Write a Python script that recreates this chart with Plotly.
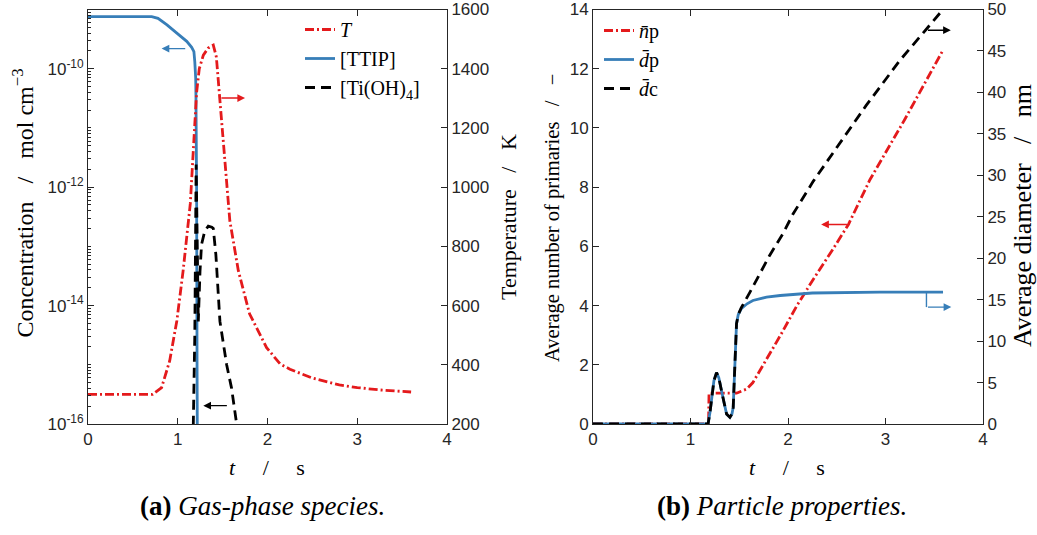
import plotly.graph_objects as go

# ---------------- data: (a) gas-phase species ----------------
t_T = [0, 0.72, 0.82, 0.91, 0.99, 1.06, 1.14, 1.17, 1.19, 1.21, 1.24, 1.285, 1.34, 1.396,
       1.43, 1.46, 1.49, 1.53, 1.58, 1.675, 1.80, 1.99, 2.14, 2.25, 2.5, 2.8, 3.0, 3.25, 3.6]
T_K = [300, 300, 323, 413, 549, 718, 945, 1114, 1215, 1320, 1400, 1446, 1470, 1480,
       1440, 1330, 1215, 1056, 887, 718, 572, 458, 403, 385, 355, 332, 323, 315, 308]

t_ttip = [0, 0.71, 0.78, 0.88, 0.99, 1.10, 1.155, 1.18, 1.19, 1.20, 1.203, 1.21, 1.215, 1.22]
c_ttip = [7.6e-10, 7.6e-10, 7.1e-10, 5.5e-10, 4.0e-10, 2.9e-10, 2.3e-10, 1.95e-10,
          1.3e-10, 6.9e-11, 3.2e-11, 1e-12, 1e-15, 1e-17]

t_tioh = [1.17, 1.19, 1.205, 1.215, 1.222, 1.229, 1.248, 1.265, 1.30, 1.34, 1.38, 1.396,
          1.425, 1.47, 1.545, 1.60, 1.656, 1.67]
c_tioh = [5e-17, 3.2e-15, 2.4e-12, 1e-13, 1e-14, 5.4e-15, 3.8e-14, 1.07e-13, 1.8e-13,
          2.2e-13, 2.1e-13, 2.0e-13, 7.2e-14, 5.4e-15, 1.0e-15, 4e-16, 1e-16, 5e-17]

# ---------------- data: (b) particle properties ----------------
t_np = [0, 1.185, 1.19, 1.30, 1.472, 1.575, 1.64, 1.78, 1.92, 2.09, 2.26, 2.46, 2.62,
        2.84, 3.2, 3.59]
n_p = [0, 0, 1.04, 1.04, 1.04, 1.18, 1.40, 2.19, 2.98, 3.99, 4.89, 5.90, 6.74,
       8.25, 10.3, 12.63]

t_dp = [0, 1.18, 1.20, 1.216, 1.24, 1.267, 1.29, 1.318, 1.345, 1.37, 1.404, 1.425, 1.438,
        1.447, 1.455, 1.472, 1.49, 1.52, 1.58, 1.64, 1.78, 1.92, 2.25, 2.94, 3.59]
d_p = [0, 0, 1.4, 2.8, 5.2, 6.2, 5.6, 4.0, 2.3, 1.2, 0.8, 1.2, 2.0,
       5.0, 8.8, 12.1, 13.2, 13.9, 14.5, 14.9, 15.3, 15.5, 15.8, 15.9, 15.9]

t_dc = [0, 1.18, 1.20, 1.216, 1.24, 1.267, 1.29, 1.318, 1.345, 1.37, 1.404, 1.425, 1.438,
        1.447, 1.455, 1.472, 1.49, 1.52, 1.61, 1.71, 1.81, 1.95, 2.05, 2.26, 2.5, 2.8,
        3.15, 3.49, 3.59]
d_c = [0, 0, 1.4, 2.8, 5.2, 6.2, 5.6, 4.0, 2.3, 1.2, 0.8, 1.2, 2.0,
       5.0, 8.8, 12.1, 13.2, 14.0, 15.9, 18.1, 20.3, 23.0, 25.3, 29.3, 33.3, 38.4,
       43.9, 48.6, 50.0]

x_ticks = [0, 1, 2, 3, 4]
conc_tickvals = [1e-16, 1e-14, 1e-12, 1e-10]
conc_ticktext = ['10<sup>-16</sup>', '10<sup>-14</sup>', '10<sup>-12</sup>', '10<sup>-10</sup>']
conc_minor = [k * 10.0 ** e for e in range(-16, -9) for k in range(1, 10)
              if not (k == 1 and e % 2 == 0)]

RED = '#E41A1C'
BLUE = '#377EB8'
BLACK = '#000000'
AX = '#262626'
SERIF = 'Liberation Serif, Times New Roman, serif'
SANS = 'Liberation Sans, Arial, sans-serif'
W, H = 1037, 535

DASH = '10px,6px'
DASHDOT = '9px,3px,2px,3px'
LW = 2.8

fig = go.Figure()

# (a)
fig.add_trace(go.Scatter(x=t_T, y=T_K, xaxis='x', yaxis='y2', mode='lines', name='<i>T</i>',
                         line=dict(color=RED, width=LW, dash=DASHDOT), legend='legend'))
fig.add_trace(go.Scatter(x=t_ttip, y=c_ttip, xaxis='x', yaxis='y', mode='lines', name='[TTIP]',
                         line=dict(color=BLUE, width=LW), legend='legend'))
fig.add_trace(go.Scatter(x=t_tioh, y=c_tioh, xaxis='x', yaxis='y', mode='lines',
                         name='[Ti(OH)<sub>4</sub>]',
                         line=dict(color=BLACK, width=LW, dash=DASH), legend='legend'))

# (b)
fig.add_trace(go.Scatter(x=t_np, y=n_p, xaxis='x2', yaxis='y3', mode='lines',
                         name='<i>n̄</i>p',
                         line=dict(color=RED, width=LW, dash=DASHDOT), legend='legend2'))
fig.add_trace(go.Scatter(x=t_dp, y=d_p, xaxis='x2', yaxis='y4', mode='lines',
                         name='<i>d̄</i>p',
                         line=dict(color=BLUE, width=LW), legend='legend2'))
fig.add_trace(go.Scatter(x=t_dc, y=d_c, xaxis='x2', yaxis='y4', mode='lines',
                         name='<i>d̄</i>c',
                         line=dict(color=BLACK, width=LW, dash=DASH), legend='legend2'))

ydom = [1 - 424 / H, 1 - 9.5 / H]
tickfont = dict(family=SANS, size=17, color=AX)
common = dict(showgrid=False, zeroline=False, showline=True, linecolor=AX, linewidth=1,
              ticks='inside', ticklen=6, tickcolor=AX, tickfont=tickfont)

fig.update_layout(
    width=W, height=H, template='none',
    paper_bgcolor='white', plot_bgcolor='white',
    margin=dict(l=0, r=0, t=0, b=0),
    xaxis=dict(domain=[88 / W, 447 / W], range=[0, 4], anchor='y', tickvals=x_ticks,
               mirror='ticks', **common),
    yaxis=dict(domain=ydom, type='log', range=[-16, -9], anchor='x',
               tickvals=conc_tickvals, ticktext=conc_ticktext,
               minor=dict(tickvals=conc_minor, ticks='inside', ticklen=3, tickcolor=AX),
               **common),
    yaxis2=dict(overlaying='y', side='right', anchor='x', range=[200, 1600], dtick=200,
                tick0=200, **common),
    xaxis2=dict(domain=[593 / W, 983 / W], range=[0, 4], anchor='y3', tickvals=x_ticks,
                mirror='ticks', **common),
    yaxis3=dict(domain=ydom, range=[0, 14], dtick=2, anchor='x2', **common),
    yaxis4=dict(overlaying='y3', side='right', anchor='x2', range=[0, 50], dtick=5, **common),
    legend=dict(x=300 / W, y=1 - 10 / H, xanchor='left', yanchor='top',
                bgcolor='rgba(0,0,0,0)', borderwidth=0, itemwidth=30,
                font=dict(family=SERIF, size=20, color=BLACK), tracegroupgap=0),
    legend2=dict(x=599 / W, y=1 - 11 / H, xanchor='left', yanchor='top',
                 bgcolor='rgba(0,0,0,0)', borderwidth=0, itemwidth=30,
                 font=dict(family=SERIF, size=20, color=BLACK), tracegroupgap=0),
    showlegend=True,
)

NB = '\u00a0'
sep = NB * 3 + '/' + NB * 3
tsep = NB * 5 + '/' + NB * 5
ann = []
# axis titles
ann.append(dict(text='Concentration' + sep + 'mol cm<sup>−3</sup>', x=22.5 / W, y=1 - 203 / H,
                textangle=-90, font=dict(family=SERIF, size=24, color=BLACK)))
ann.append(dict(text='Temperature' + sep + 'K', x=508 / W, y=1 - 217 / H,
                textangle=-90, font=dict(family=SERIF, size=22, color=BLACK)))
ann.append(dict(text='<i>t</i>' + tsep + 's', x=267 / W, y=1 - 467 / H,
                font=dict(family=SERIF, size=22, color=BLACK)))
ann.append(dict(text='Average number of primaries' + sep + '−', x=552 / W, y=1 - 218 / H,
                textangle=-90, font=dict(family=SERIF, size=20.5, color=BLACK)))
ann.append(dict(text='Average diameter' + sep + 'nm', x=1023 / W, y=1 - 216 / H,
                textangle=-90, font=dict(family=SERIF, size=26, color=BLACK)))
ann.append(dict(text='<i>t</i>' + tsep + 's', x=787 / W, y=1 - 467 / H,
                font=dict(family=SERIF, size=22, color=BLACK)))
# captions
ann.append(dict(text='<b>(a)</b> <i>Gas-phase species.</i>', x=262 / W, y=1 - 506 / H,
                font=dict(family=SERIF, size=27, color=BLACK)))
ann.append(dict(text='<b>(b)</b> <i>Particle properties.</i>', x=782 / W, y=1 - 506 / H,
                font=dict(family=SERIF, size=27, color=BLACK)))
for a in ann:
    a.update(xref='paper', yref='paper', showarrow=False, xanchor='center', yanchor='middle')

arrow = dict(text='', showarrow=True, arrowhead=2, arrowsize=1.1, arrowwidth=1.4,
             standoff=0, startstandoff=0)
ann.append(dict(arrow, x=0.82, y=-9.66, ax=1.10, ay=-9.66, xref='x', yref='y',
                axref='x', ayref='y', arrowcolor=BLUE))
ann.append(dict(arrow, x=1.75, y=1301, ax=1.47, ay=1301, xref='x', yref='y2',
                axref='x', ayref='y2', arrowcolor=RED))
ann.append(dict(arrow, x=1.285, y=-15.69, ax=1.564, ay=-15.69, xref='x', yref='y',
                axref='x', ayref='y', arrowcolor=BLACK))
ann.append(dict(arrow, x=2.34, y=6.74, ax=2.62, ay=6.74, xref='x2', yref='y3',
                axref='x2', ayref='y3', arrowcolor=RED))
ann.append(dict(arrow, x=3.67, y=47.5, ax=3.42, ay=47.5, xref='x2', yref='y4',
                axref='x2', ayref='y4', arrowcolor=BLACK))
ann.append(dict(arrow, x=3.675, y=14.1, ax=3.42, ay=14.1, xref='x2', yref='y4',
                axref='x2', ayref='y4', arrowcolor=BLUE))
fig.update_layout(annotations=ann)
fig.add_shape(type='line', xref='x2', yref='y4', x0=3.42, x1=3.42, y0=15.9, y1=14.1,
              line=dict(color=BLUE, width=1.4))

fig.write_html('out.html')
